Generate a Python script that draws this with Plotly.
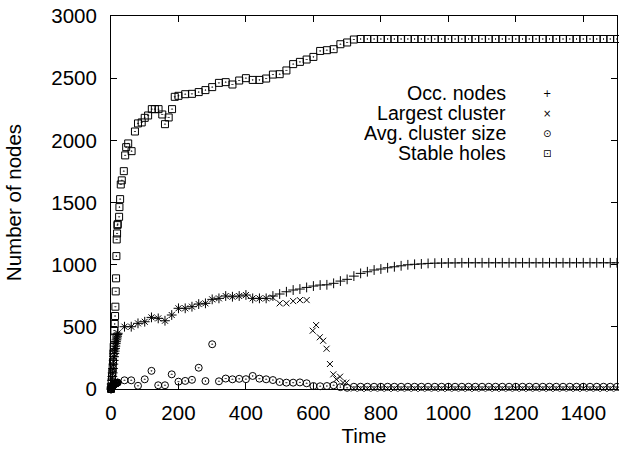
import plotly.graph_objects as go

# ---------------- data ----------------
series_names = ["Occ. nodes", "Largest cluster", "Avg. cluster size", "Stable holes"]

# early dense sampling (t = 0..19)
t_early = [0, 1, 2, 3, 4, 5, 6, 7, 8, 9, 10, 11, 12, 13, 14, 15, 16, 17, 18, 19]
# regular sampling afterwards
t_main = list(range(20, 1501, 20))

occ_early = [0, 15, 40, 70, 100, 130, 165, 200, 230, 260, 285, 305, 325, 345, 365, 380, 395, 410, 425, 438]
occ_main = [448, 501, 501, 528, 541, 576, 568, 549, 595, 649,
            649, 662, 683, 689, 721, 729, 748, 742, 748, 756,
            729, 729, 729, 748, 764, 782, 796, 804, 817, 828,
            836, 838, 850, 868, 882, 908, 930, 943, 957, 965,
            975, 983, 991, 999, 1003, 1006, 1010, 1012, 1013, 1014,
            1014, 1015, 1015, 1015, 1015, 1015, 1015, 1015, 1015, 1015,
            1015, 1015, 1015, 1015, 1015, 1015, 1015, 1015, 1015, 1015,
            1015, 1015, 1015, 1015, 1015]

lc_early = [0, 10, 30, 60, 90, 125, 160, 195, 225, 255, 280, 300, 320, 340, 360, 375, 390, 405, 420, 435]
lc_time = [20, 40, 60, 80, 100, 120, 140, 160, 180, 200,
           220, 240, 260, 280, 300, 320, 340, 360, 380, 400,
           420, 440, 460, 480, 500, 520, 540, 560, 580,
           598, 608, 619, 629, 639, 649, 659, 668, 679, 688, 698] + list(range(720, 1501, 20))
lc_main = [448, 501, 501, 528, 541, 576, 568, 549, 595, 649,
           649, 662, 683, 689, 721, 729, 748, 742, 748, 756,
           729, 729, 729, 735, 689, 689, 707, 715, 715,
           469, 514, 416, 388, 324, 201, 118, 78, 99, 51, 51,
           3, 3, 3, 3, 3, 3, 3, 3, 3, 3,
           3, 3, 3, 3, 3, 3, 3, 3, 3, 3,
           3, 3, 3, 3, 3, 3, 3, 3, 3, 3,
           3, 3, 3, 3, 3, 3, 3, 3, 3, 3]

avg_early = [0, 5, 10, 15, 20, 25, 28, 30, 32, 35, 38, 40, 42, 44, 45, 46, 47, 48, 50, 51]
avg_main = [52, 70, 70, 26, 78, 146, 30, 30, 118, 59,
            65, 74, 171, 64, 360, 62, 84, 78, 82, 79,
            105, 83, 78, 72, 56, 51, 51, 53, 46, 24,
            22, 24, 30, 15, 10, 18, 18, 18, 18, 18,
            18, 18, 18, 18, 18, 18, 18, 18, 18, 18,
            18, 18, 18, 18, 18, 18, 18, 18, 18, 18,
            18, 18, 18, 18, 18, 18, 18, 18, 18, 18,
            18, 18, 18, 18, 18]

holes_time = [0, 1, 2, 3, 4, 5, 6, 7, 8, 9, 10, 11, 12, 13, 14, 15, 16, 17, 18, 19,
              20, 24, 25, 27, 29, 32, 38, 42, 45, 51, 61, 71, 80, 91, 100, 110,
              121, 130, 141, 152, 160, 171, 181, 189] + list(range(200, 1501, 20))
holes_vals = [0, 20, 60, 99, 130, 166, 220, 287, 340, 408, 470, 523, 587, 662, 785, 890, 1069, 1203, 1251, 1318,
              1326, 1385, 1463, 1527, 1645, 1678, 1752, 1879, 1945, 1975, 1913, 2071, 2136, 2144, 2181, 2200,
              2251, 2251, 2251, 2208, 2130, 2184, 2251, 2350,
              2358, 2371, 2374, 2388, 2404, 2428, 2462, 2468, 2449, 2481,
              2500, 2486, 2486, 2497, 2529, 2532, 2562, 2613, 2631, 2650,
              2671, 2719, 2725, 2733, 2773, 2787, 2811, 2815, 2815, 2815,
              2815, 2815, 2815, 2815, 2815, 2815, 2815, 2815, 2815, 2815,
              2815, 2815, 2815, 2815, 2815, 2815, 2815, 2815, 2815, 2815,
              2815, 2815, 2815, 2815, 2815, 2815, 2815, 2815, 2815, 2815,
              2815, 2815, 2815, 2815, 2815, 2815]

x_ticks = [0, 200, 400, 600, 800, 1000, 1200, 1400]
y_ticks = [0, 500, 1000, 1500, 2000, 2500, 3000]
legend_glyphs = ["+", "\u00d7", "\u2299", "\u22a1"]

# ---------------- figure ----------------
FONT = "Liberation Sans, Arial, Helvetica, sans-serif"
FS = 20.5
LEG_FS = 19.6
BLACK = "#000000"

fig = go.Figure()

traces = [
    (t_early + t_main, occ_early + occ_main, "cross-thin-open", 7),
    (t_early + lc_time, lc_early + lc_main, "x-thin-open", 6),
    (t_early + t_main, avg_early + avg_main, "circle-open-dot", 7),
    (holes_time, holes_vals, "square-open-dot", 7),
]
for name, (xs, ys, sym, sz) in zip(series_names, traces):
    fig.add_trace(go.Scatter(
        x=xs, y=ys, mode="markers", name=name, showlegend=False,
        cliponaxis=False,
        marker=dict(symbol=sym, size=sz, color=BLACK,
                    line=dict(color=BLACK, width=1)),
    ))

# legend drawn gnuplot-style: right aligned text, key to its right
leg_x_text = 0.7826
leg_x_key = 0.8617
leg_y = [0.7936, 0.7399, 0.6863, 0.6327]
for name, glyph, yy in zip(series_names, legend_glyphs, leg_y):
    fig.add_annotation(x=leg_x_text, y=yy, xref="paper", yref="paper",
                       text=name, showarrow=False, xanchor="right", yanchor="middle",
                       height=20, valign="bottom", borderpad=0, yshift=-1,
                       font=dict(family=FONT, size=LEG_FS, color=BLACK))
    fig.add_annotation(x=leg_x_key, y=yy, xref="paper", yref="paper",
                       text=glyph, showarrow=False, xanchor="center", yanchor="middle",
                       height=14, borderpad=0,
                       font=dict(family="DejaVu Sans", size=10, color=BLACK))

axis_common = dict(
    showline=True, linecolor=BLACK, linewidth=1, mirror="allticks",
    ticks="inside", ticklen=6, tickwidth=1, tickcolor=BLACK,
    showgrid=False, zeroline=False,
    tickfont=dict(family=FONT, size=FS, color=BLACK),
)

fig.update_layout(
    width=619, height=449,
    margin=dict(l=111, r=2, t=16, b=60),
    paper_bgcolor="white", plot_bgcolor="white",
    font=dict(family=FONT, size=FS, color=BLACK),
    xaxis=dict(range=[0, 1500], tickvals=x_ticks, ticktext=[str(v) for v in x_ticks],
               title=dict(text="Time", font=dict(family=FONT, size=FS, color=BLACK), standoff=6),
               ticklabelstandoff=5, **axis_common),
    yaxis=dict(range=[0, 3000], tickvals=y_ticks, ticktext=[str(v) for v in y_ticks],
               title=dict(text="Number of nodes", font=dict(family=FONT, size=FS, color=BLACK), standoff=24),
               ticklabelstandoff=9, **axis_common),
)

fig.write_html("out.html")
